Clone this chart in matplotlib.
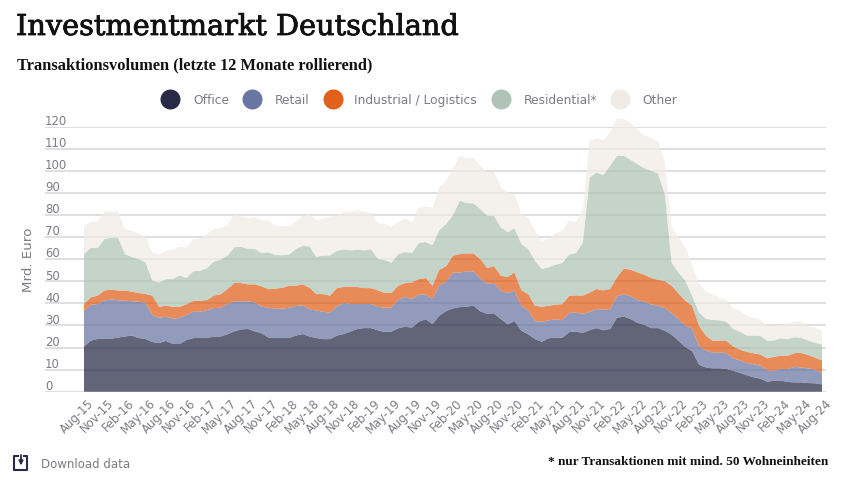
"""
Investmentmarkt Deutschland: rolling 12-month transaction volume, stacked by sector.
Values are read off the reference as the top edge of each band, one per month.
"""

import numpy as np
import matplotlib
matplotlib.use("Agg")
import matplotlib.pyplot as plt
import matplotlib.patheffects as pe
from matplotlib.transforms import ScaledTranslation

# top edge of each stacked band, Aug-15 to Aug-24, monthly (Mrd. Euro)
top_office = [
    20.5, 23.1, 23.9, 24, 24, 24.5, 25, 25.4, 24.3, 23.9, 22.5, 22, 23, 21.6, 21.6, 23.4, 24.3, 24.3,
    24.5, 24.8, 25, 26, 27.3, 28.2, 28.4, 27.3, 26.4, 24.5, 24.3, 24.3, 24.3, 25.4, 26.1, 25, 24.3, 23.8,
    23.8, 25.4, 26.1, 27.2, 28.4, 28.8, 28.8, 27.8, 27, 27.2, 28.7, 29.4, 29, 31.7, 32.8, 30.6, 34.4, 36.5,
    37.7, 38.3, 38.5, 39, 36.4, 35.2, 35.5, 32.9, 30.5, 32, 27.6, 26, 23.8, 22.6, 24.2, 24.5, 24.4, 27,
    27.2, 26.6, 27.9, 28.8, 27.8, 28.4, 33.5, 34, 32.9, 31.2, 30.3, 28.8, 28.8, 27.6, 25.8, 23.1, 20.2, 18.4,
    12.2, 11, 10.6, 10.6, 10.3, 9.5, 8.5, 7.5, 6.5, 5.9, 4.5, 5, 5, 4.4, 4.2, 4.2, 3.9, 3.8, 3.3,
]
top_retail = [
    36.7, 39.3, 39.7, 41.4, 41.8, 41.4, 41.2, 41, 40.8, 40.3, 34.7, 33.5, 34, 33, 33.5, 34.7, 36.2, 36.2,
    36.9, 37.9, 38, 39.7, 40.9, 40.9, 40.9, 40.5, 38.5, 38, 37.6, 37.6, 38, 38.8, 39.1, 37.3, 36.8, 36.2,
    35.8, 38.6, 40.3, 39.7, 39.7, 39.7, 39.7, 38.5, 38, 38, 41.7, 43, 42, 43.9, 44, 42, 48.3, 49.8,
    53.9, 53.9, 54.5, 54.5, 51.3, 48.8, 49.2, 45.7, 44.7, 45.7, 39, 36.7, 32, 31.7, 32.3, 32.8, 32.4, 35.7,
    35.8, 35.2, 36.2, 37.4, 37.1, 37.4, 43.2, 44.2, 43.2, 41.5, 40.8, 39.5, 38.9, 37.9, 35.6, 32.9, 29.9, 28.7,
    20.5, 18.7, 17.7, 17.7, 17.5, 15.1, 14.2, 13, 12.4, 11.8, 9.7, 9.5, 10.3, 10.3, 11.3, 10.9, 10.6, 10, 8.6,
]
top_industrial = [
    39.7, 42.7, 43.5, 45.8, 46.2, 45.8, 45.8, 45.3, 44.7, 44.3, 43.5, 38.4, 39, 38.4, 38.4, 39.6, 41.1, 41.2,
    41.5, 43.5, 44.1, 46.5, 49.2, 49.2, 48.6, 48.6, 47.7, 46.4, 46.7, 47, 48, 48, 48.6, 47.1, 44.2, 44.2,
    43.5, 46.9, 47.4, 47.4, 47.4, 46.9, 46.9, 45.9, 44.7, 44.7, 48, 49.2, 49.5, 51, 51.5, 48, 55.2, 56.8,
    61.6, 62.3, 62.6, 62.6, 60, 56, 56.8, 52.5, 51.9, 54, 46, 44.2, 38.9, 38.5, 38.9, 39.4, 39.7, 43.4,
    43.6, 43.5, 44.8, 46.5, 45.9, 46.5, 51.8, 55.8, 55.2, 54, 53, 51.5, 50.7, 50.1, 48, 44.5, 41.2, 38.9,
    29.9, 25.4, 23.1, 23.1, 23.1, 20.5, 19, 18, 17.4, 16.8, 15.1, 15.8, 16.3, 16.3, 17.5, 17.5, 16.6, 15.4, 14.2,
]
top_residential = [
    62.4, 65.1, 65.1, 69.1, 69.7, 69.7, 62.3, 61, 60, 58.6, 50.3, 49.5, 51, 51, 52.6, 51.5, 54.5, 54.8,
    55.9, 58.9, 59.8, 61.6, 65.4, 65.6, 64.7, 64.7, 62.8, 63.1, 61.9, 61.8, 62.1, 64.6, 66.1, 65.8, 61.1, 61.6,
    61.7, 63.8, 64.5, 64, 64.3, 64, 64.5, 60.1, 59.6, 58.4, 62.3, 63.2, 62.9, 67.3, 67.8, 66.4, 73.2, 75.9,
    80, 86.5, 85.4, 85.3, 82.7, 79.7, 79.7, 74.4, 72.3, 74, 66.9, 64.6, 59.3, 55.5, 56.3, 57.5, 58.3, 62.1,
    62.8, 67.6, 97, 99.3, 98.1, 102.3, 106.8, 106.8, 105, 103, 101.2, 100, 98.9, 89.4, 58.4, 54, 50.2, 43.4,
    35.8, 33, 32.5, 32.3, 31.7, 28.4, 27.2, 25.4, 25.4, 25.2, 23.1, 23.2, 24.2, 23.8, 24.7, 24.3, 23.2, 22.1, 21.4,
]
top_other = [
    75.2, 77, 77, 81.5, 81.7, 81.5, 73.7, 72.9, 71.4, 70.3, 63, 62, 64, 64.2, 65.7, 65.2, 69.1, 69.4,
    71.4, 73.7, 74.1, 75.6, 80.5, 79.4, 78.5, 79.2, 77.6, 77.6, 75, 75, 74.8, 77.1, 79.7, 80.3, 77.7, 78.2,
    79.4, 79.7, 81.4, 81.5, 82.1, 81.5, 80.9, 76.4, 75.9, 74.7, 76.7, 78.5, 76.7, 83.3, 83.8, 83.3, 92.5, 95.5,
    100.8, 106.9, 105.8, 105.8, 102.3, 99.3, 99.6, 92.5, 90.3, 89.5, 80.5, 78.9, 72.9, 68.1, 69.4, 71.7, 72.9, 77.5,
    76.7, 82.7, 113.6, 114.7, 114, 117.5, 123.5, 123.5, 121.7, 118.7, 116.2, 114.7, 113.4, 103.8, 74.4, 69.9, 65.4, 57,
    48.8, 45.4, 43.9, 42.4, 41.6, 37.7, 36.7, 34.4, 33.4, 32.6, 29.9, 30, 30.2, 31, 31.7, 31.8, 29.6, 29, 27.6,
]
quarter_labels = [
    "Aug-15", "Nov-15", "Feb-16", "May-16", "Aug-16", "Nov-16", "Feb-17", "May-17", "Aug-17", "Nov-17",
    "Feb-18", "May-18", "Aug-18", "Nov-18", "Feb-19", "May-19", "Aug-19", "Nov-19", "Feb-20", "May-20",
    "Aug-20", "Nov-20", "Feb-21", "May-21", "Aug-21", "Nov-21", "Feb-22", "May-22", "Aug-22", "Nov-22",
    "Feb-23", "May-23", "Aug-23", "Nov-23", "Feb-24", "May-24", "Aug-24",
]
series_names = ["Office", "Retail", "Industrial / Logistics", "Residential*", "Other"]
colors = ["#282b45", "#6a76a2", "#e2601a", "#afc4b5", "#f0ebe5"]

SERIF = "DejaVu Serif"
SERIF_BOLD = "Liberation Serif"
SANS = "DejaVu Sans"
TEXT_GREY = "#7b7b86"
W, H = 850, 489

months = np.arange(len(top_office))
tops = np.array([top_office, top_retail, top_industrial, top_residential, top_other])
values = np.diff(tops, axis=0, prepend=0)  # band thickness per sector

fig = plt.figure(figsize=(W / 100, H / 100), dpi=100)

# plot area placed in pixels: gridlines run 45-826, value 0 at y=392.7, 120 at y=127.7
ax = fig.add_axes([45 / W, 1 - 392.7 / H, (826 - 45) / W, (392.7 - 127.7) / H])
px_per_month = (822 - 84) / 108
ax.set_xlim(-(84 - 45) / px_per_month, (826 - 84) / px_per_month)
ax.set_ylim(0, 120)
ax.patch.set_visible(False)

ax.stackplot(months, values, colors=colors, alpha=0.73, linewidth=0, zorder=3)
# the peak goes above the top gridline, as in the reference
for coll in ax.collections:
    coll.set_clip_on(False)

y_ticks = np.arange(0, 130, 10)
ax.set_yticks(y_ticks)
ax.grid(axis="y", color="#d4d4db", linewidth=1.1, zorder=1)
ax.tick_params(axis="y", length=0, labelleft=False)
for v in y_ticks:
    ax.annotate(str(v), (0, v), xycoords=ax.get_yaxis_transform(), xytext=(0, 2),
                textcoords="offset points", color=TEXT_GREY, fontsize=8.4, family=SANS,
                va="baseline", ha="left", zorder=5)

ax.set_xticks(months[::3])
ax.set_xticklabels(quarter_labels, rotation=45, ha="right", rotation_mode="anchor",
                   color=TEXT_GREY, fontsize=8.4, family=SANS)
ax.tick_params(axis="x", length=0, pad=3)
shift = ScaledTranslation(3 / 100, 0, fig.dpi_scale_trans)
for label in ax.get_xticklabels():
    label.set_transform(label.get_transform() + shift)
for side in ["top", "right", "left", "bottom"]:
    ax.spines[side].set_visible(False)

# overlay in pixel coordinates for titles, legend and footer
ov = fig.add_axes([0, 0, 1, 1])
ov.set_xlim(0, W)
ov.set_ylim(H, 0)
ov.axis("off")
ov.patch.set_visible(False)

ov.text(16, 28, "Investmentmarkt Deutschland", family=SERIF, fontsize=20.7, color="#111111",
        va="center", ha="left", path_effects=[pe.withStroke(linewidth=0.6, foreground="#111111")])
ov.text(17, 65, "Transaktionsvolumen (letzte 12 Monate rollierend)", family=SERIF_BOLD, fontsize=11.8,
        fontweight="bold", color="#111111", va="center", ha="left")

ov.text(29, 260, "Mrd. Euro", rotation=90, family=SANS, fontsize=9.6, color=TEXT_GREY,
        va="center", ha="center")

dot_x = [170, 252, 333, 501, 620]
label_x = [193, 275, 354, 524, 642]
for name, color, dx, lx in zip(series_names, colors, dot_x, label_x):
    ov.scatter([dx], [100], s=207, color=color, linewidths=0)
    ov.text(lx, 100.5, name, family=SANS, fontsize=8.8, color=TEXT_GREY,
            va="center", ha="left")

# download icon
icon_x = [18, 14.5, 14.5, 27.5, 27.5, 24]
icon_y = [457, 457, 470.5, 470.5, 457, 457]
ov.plot(icon_x, icon_y, color="#282b45", linewidth=1.5)
ov.annotate("", xy=(21, 466.5), xytext=(21, 456),
            arrowprops=dict(arrowstyle="-|>", color="#282b45", lw=1.3, mutation_scale=6,
                            shrinkA=0, shrinkB=0))
ov.text(41, 464.5, "Download data", family=SANS, fontsize=8.5, color=TEXT_GREY,
        va="center", ha="left")
ov.text(828, 462, "* nur Transaktionen mit mind. 50 Wohneinheiten", family=SERIF_BOLD, fontsize=9.55,
        fontweight="bold", color="#111111", va="center", ha="right")

fig.savefig("out.png", dpi=100)
